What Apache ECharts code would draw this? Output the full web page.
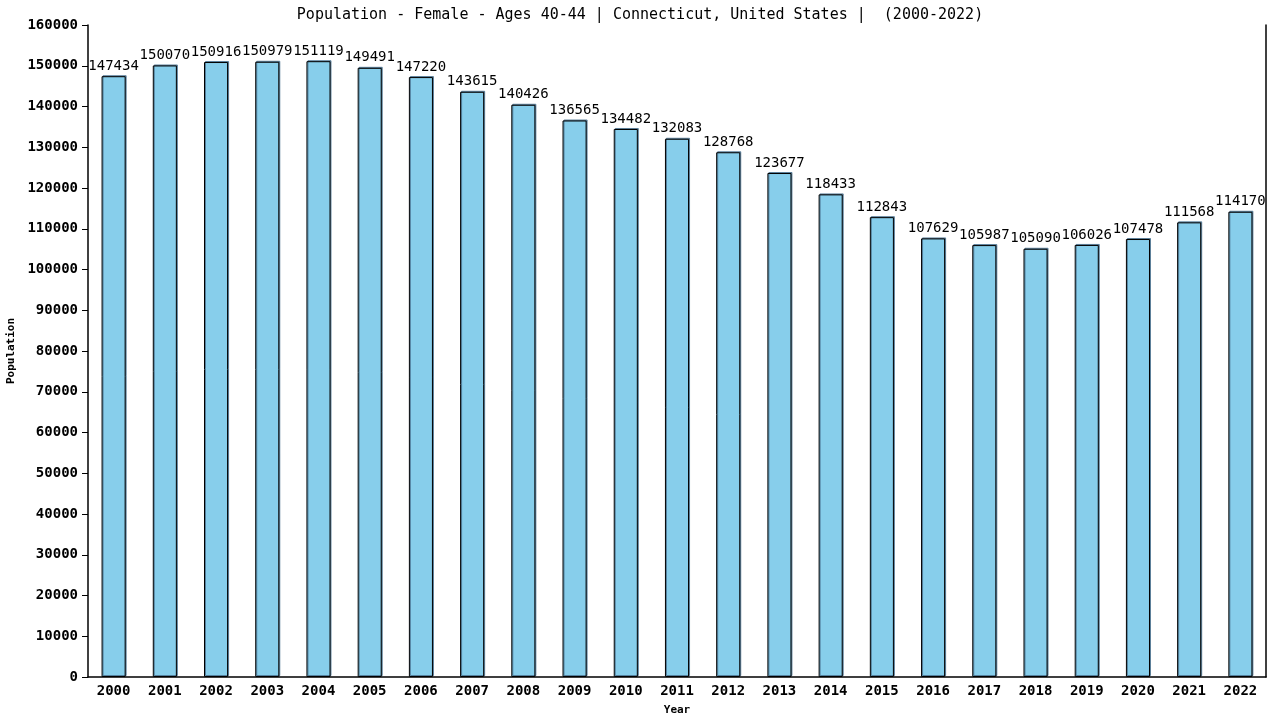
<!DOCTYPE html>
<html>
<head>
<meta charset="utf-8">
<script src="https://cdn.jsdelivr.net/npm/echarts@6/dist/echarts.min.js"></script>
<style>
  html, body { margin: 0; padding: 0; background: #fff; }
  #chart { width: 1280px; height: 720px; }
</style>
</head>
<body>
<div id="chart"></div>
<script>
var years = ['2000','2001','2002','2003','2004','2005','2006','2007','2008','2009','2010','2011',
             '2012','2013','2014','2015','2016','2017','2018','2019','2020','2021','2022'];
var population = [147434,150070,150916,150979,151119,149491,147220,143615,140426,136565,134482,132083,
                  128768,123677,118433,112843,107629,105987,105090,106026,107478,111568,114170];

var mono = 'DejaVu Sans Mono';

var option = {
    backgroundColor: '#ffffff',
    animation: false,
    title: {
        text: 'Population - Female - Ages 40-44 | Connecticut, United States |  (2000-2022)',
        left: 'center',
        top: 3,
        textStyle: { fontFamily: mono, fontSize: 15, fontWeight: 'normal', color: '#000' }
    },
    grid: { left: 88, right: 14, top: 25, bottom: 43, outerBoundsMode: 'none' },
    xAxis: {
        type: 'category',
        data: years,
        name: 'Year',
        nameLocation: 'middle',
        nameGap: 28,
        nameTextStyle: { fontFamily: mono, fontSize: 11, fontWeight: 'bold', color: '#000' },
        axisLine: { lineStyle: { color: '#000', width: 1.5 } },
        axisTick: { show: false },
        axisLabel: { fontFamily: mono, fontSize: 14, fontWeight: 'bold', color: '#000', margin: 7 }
    },
    yAxis: [{
        type: 'value',
        min: 0,
        max: 160000,
        interval: 10000,
        name: 'Population',
        nameLocation: 'middle',
        nameGap: 70,
        nameTextStyle: { fontFamily: mono, fontSize: 11, fontWeight: 'bold', color: '#000' },
        axisLine: { show: true, lineStyle: { color: '#000', width: 1.5 } },
        axisTick: { show: true, length: 6, lineStyle: { color: '#000' } },
        axisLabel: {
            fontFamily: mono, fontSize: 14, fontWeight: 'bold', color: '#000', margin: 10,
            formatter: function (v) { return String(v); }
        },
        splitLine: { show: false }
    }, {
        type: 'value',
        min: 0,
        max: 160000,
        position: 'right',
        axisLine: { show: true, lineStyle: { color: '#000', width: 1.5 } },
        axisTick: { show: false },
        axisLabel: { show: false },
        splitLine: { show: false }
    }],
    series: [{
        type: 'bar',
        data: population,
        barWidth: '47%',
        itemStyle: {
            color: '#87ceeb',
            borderColor: '#000',
            borderWidth: 1,
            shadowColor: 'rgba(70,110,140,0.8)',
            shadowOffsetX: 1,
            shadowOffsetY: -1
        },
        label: {
            show: true,
            position: 'top',
            distance: 3,
            fontFamily: mono,
            fontSize: 14,
            color: '#000'
        }
    }]
};

var myChart = echarts.init(document.getElementById('chart'));
myChart.setOption(option);
</script>
</body>
</html>
